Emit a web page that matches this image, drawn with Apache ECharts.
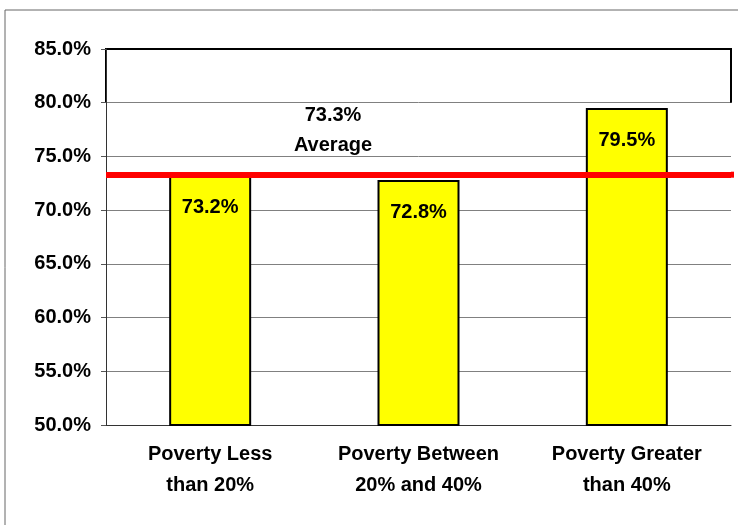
<!DOCTYPE html>
<html>
<head>
<meta charset="utf-8">
<script src="https://cdn.jsdelivr.net/npm/echarts@6/dist/echarts.min.js"></script>
<style>html,body{margin:0;padding:0;background:#fff}#c{width:738px;height:525px}</style>
</head>
<body>
<div id="c"></div>
<script>
var categories = ['Poverty Less\nthan 20%', 'Poverty Between\n20% and 40%', 'Poverty Greater\nthan 40%'];
var values = [73.2, 72.8, 79.5];
var averageValue = 73.3;
var averageText = ['73.3%', 'Average'];
var yMin = 50, yMax = 85, yStep = 5;

var font = 'Arial, "Liberation Sans", sans-serif';
var fs = 20;
var chart = echarts.init(document.getElementById('c'));
var option = {
  animation: false,
  backgroundColor: '#fff',
  grid: {left: 106, right: 7, top: 49, bottom: 100},
  xAxis: {
    type: 'category',
    data: categories,
    axisLine: {lineStyle: {color: '#333', width: 1}},
    axisTick: {show: false},
    axisLabel: {interval: 0, hideOverlap: false, fontFamily: font, fontWeight: 'bold', fontSize: fs, color: '#000', lineHeight: 31, margin: 14}
  },
  yAxis: {
    type: 'value', min: yMin, max: yMax, interval: yStep,
    axisLine: {show: true, lineStyle: {color: '#333', width: 1}},
    axisTick: {show: true, length: 5, lineStyle: {color: '#555'}},
    axisLabel: {fontFamily: font, fontWeight: 'bold', fontSize: fs, color: '#000', margin: 15,
      formatter: function (v) { return v.toFixed(1) + '%'; }},
    splitLine: {show: true, lineStyle: {color: ['#808080','#808080','#808080','#808080','#808080','#808080','#808080','#000'], width: 1}}
  },
  series: [{
    type: 'bar',
    data: values,
    barWidth: 82,
    itemStyle: {color: '#FFFF00', borderColor: '#000', borderWidth: 2},
    label: {show: true, position: 'insideTop', distance: 22, fontFamily: font, fontWeight: 'bold', fontSize: fs, color: '#000',
      formatter: function (p) { return p.value.toFixed(1) + '%'; }},
    markLine: {
      silent: true, symbol: 'none', label: {show: false},
      lineStyle: {color: '#FF0000', width: 6, type: 'solid'},
      data: [{yAxis: averageValue}]
    }
  }]
};
chart.setOption(option);

var pTop = chart.convertToPixel({gridIndex: 0}, [0, yMax]);
var p80 = chart.convertToPixel({gridIndex: 0}, [0, yMax - yStep]);
var pAvg = chart.convertToPixel({gridIndex: 0}, [0, averageValue]);
var gx0 = 106, gx1 = 738 - 7;
chart.setOption({
  graphic: [
    {type: 'line', shape: {x1: 5, y1: 10, x2: 738, y2: 10}, style: {stroke: '#666', lineWidth: 1}},
    {type: 'line', shape: {x1: 5, y1: 10, x2: 5, y2: 525}, style: {stroke: '#666', lineWidth: 1}},
    {type: 'polyline', shape: {points: [[gx0, p80[1]], [gx0, pTop[1]], [gx1, pTop[1]], [gx1, p80[1]]]}, style: {stroke: '#000', lineWidth: 2, fill: null}},
    {type: 'line', shape: {x1: gx1, y1: pAvg[1], x2: 734, y2: pAvg[1]}, style: {stroke: '#FF0000', lineWidth: 6}},
    {type: 'text', x: 333, y: 115, style: {text: averageText[0], fontFamily: font, fontWeight: 'bold', fontSize: fs, fill: '#000', align: 'center', verticalAlign: 'middle'}},
    {type: 'text', x: 333, y: 145, style: {text: averageText[1], fontFamily: font, fontWeight: 'bold', fontSize: fs, fill: '#000', align: 'center', verticalAlign: 'middle'}}
  ]
});
</script>
</body>
</html>
